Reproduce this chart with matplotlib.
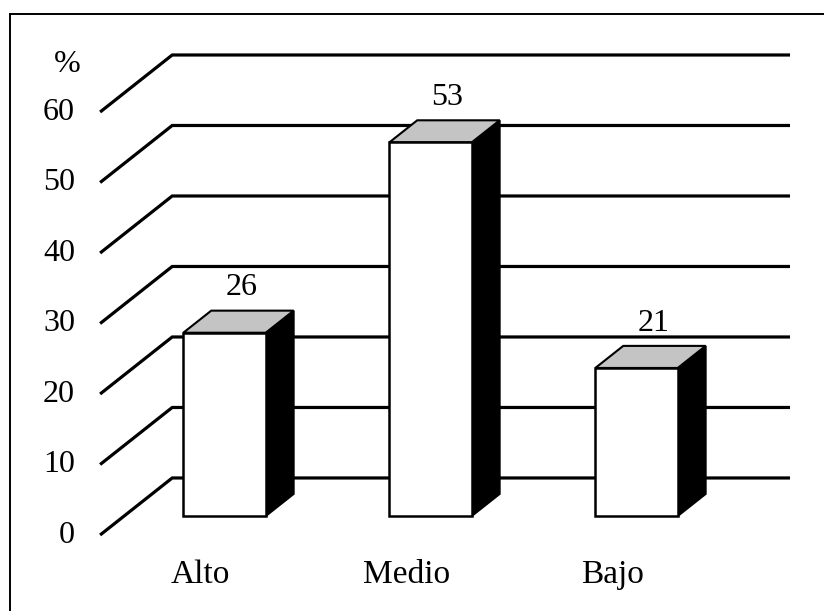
import matplotlib
matplotlib.use('Agg')
import matplotlib.pyplot as plt
from matplotlib.patches import Polygon
from matplotlib.lines import Line2D

categories = ['Alto', 'Medio', 'Bajo']
values = [26, 53, 21]
ticks = [0, 10, 20, 30, 40, 50, 60]

plt.rcParams['font.family'] = ['Liberation Serif', 'DejaVu Serif']

# oblique projection: depth d in [0, 1] shifts by (DX, DY) in axis units
DX, DY = 0.35, 8.09
D0, D1 = 0.333, 0.72      # front / back depth of the bars
BW = 0.40                 # bar width (category spacing = 1)
WALL_L, WALL_R = -0.604, 2.395


def proj(x, v, d):
    return x + d * DX, v + d * DY


fig = plt.figure(figsize=(8.24, 6.11), dpi=100)
ax = fig.add_axes([0, 0, 1, 1])
ax.set_xlim(-1.090, 2.910)
ax.set_ylim(-10.78, 75.89)
ax.axis('off')

# back wall gridlines + left side diagonals
for t in ticks:
    pts = [proj(WALL_L, t, 0), proj(WALL_L, t, 1), proj(WALL_R, t, 1)]
    ax.plot([p[0] for p in pts], [p[1] for p in pts], color='black', lw=2.3,
            solid_joinstyle='miter', solid_capstyle='butt', zorder=1)
    ax.text(-0.726, t, str(t), ha='right', va='center', fontsize=23)

ax.text(-0.765, 66.8, '%', ha='center', va='center', fontsize=23)

# bars
for i, (cat, v) in enumerate(zip(categories, values)):
    xc = i - D0 * DX
    xl, xr = xc - BW / 2, xc + BW / 2
    front = [proj(xl, 0, D0), proj(xr, 0, D0), proj(xr, v, D0), proj(xl, v, D0)]
    side = [proj(xr, 0, D0), proj(xr, 0, D1), proj(xr, v, D1), proj(xr, v, D0)]
    top = [proj(xl, v, D0), proj(xr, v, D0), proj(xr, v, D1), proj(xl, v, D1)]
    ax.add_patch(Polygon(side, closed=True, facecolor='black', edgecolor='black',
                         lw=1.5, zorder=3))
    ax.add_patch(Polygon(top, closed=True, facecolor='#c4c4c4', edgecolor='black',
                         lw=1.5, zorder=3))
    ax.add_patch(Polygon(front, closed=True, facecolor='white', edgecolor='black',
                         lw=1.8, zorder=4))
    tx, _ = proj(xc, v, (D0 + D1) / 2)
    _, ty = proj(xc, v, D1)
    ax.annotate(str(v), (tx, ty), xytext=(2, 6), textcoords='offset points',
                ha='center', va='bottom', fontsize=23)
    ax.text(xc, -5.67, cat, ha='center', va='center', fontsize=24)

# outer frame (top and left edges)
fig.add_artist(Line2D([10 / 824, 1.0], [1 - 14 / 611, 1 - 14 / 611],
                      transform=fig.transFigure, color='black', lw=1.4))
fig.add_artist(Line2D([10 / 824, 10 / 824], [0.0, 1 - 14 / 611],
                      transform=fig.transFigure, color='black', lw=1.4))

fig.savefig('out.png', dpi=100)
